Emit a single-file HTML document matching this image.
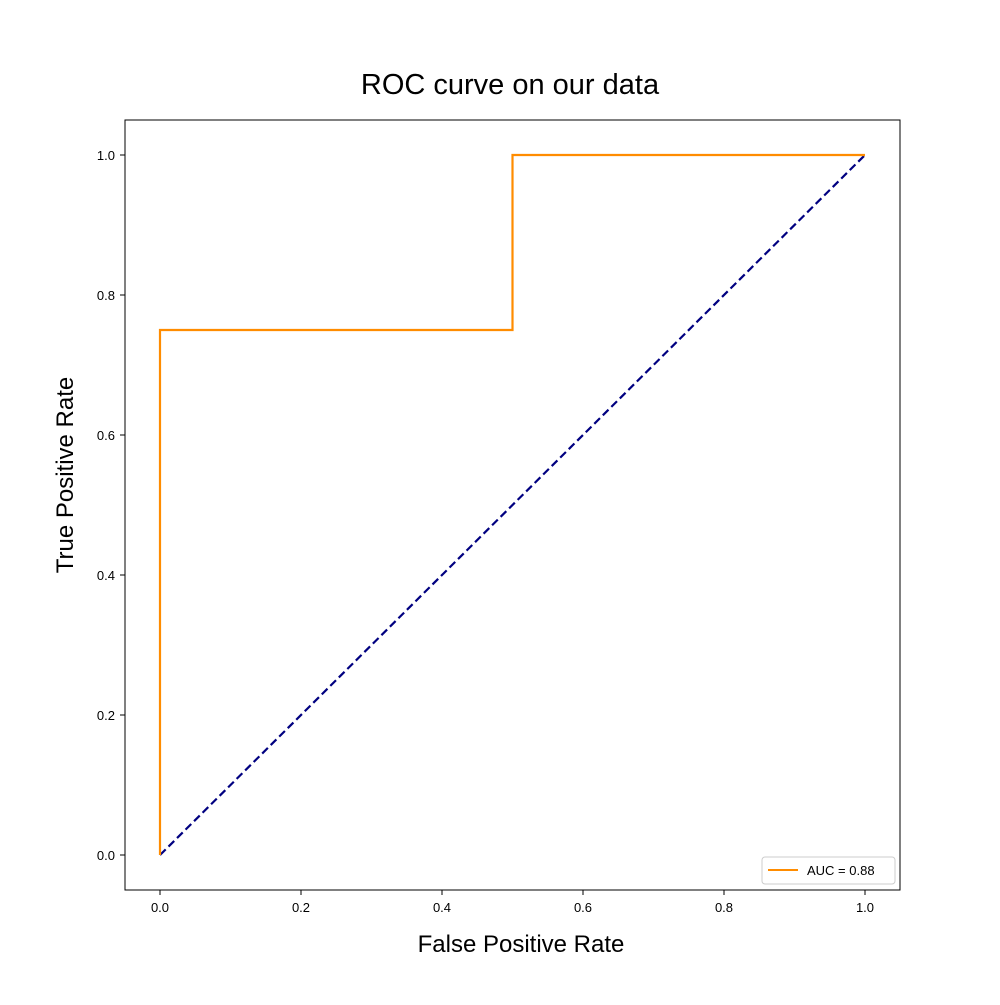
<!DOCTYPE html>
<html><head><meta charset="utf-8"><style>
body{margin:0;background:#fff;width:1000px;height:1000px;overflow:hidden}
svg text{font-family:"Liberation Sans","DejaVu Sans",sans-serif}
</style></head><body>
<svg id="chart" width="1000" height="1000" xmlns="http://www.w3.org/2000/svg">
<rect x="0" y="0" width="1000" height="1000" fill="#fff"/>
<text x="510" y="94" font-size="29" text-anchor="middle">ROC curve on our data</text>
<text x="521" y="952" font-size="24" text-anchor="middle">False Positive Rate</text>
<text transform="translate(73,475) rotate(-90)" font-size="24" text-anchor="middle">True Positive Rate</text>
<g id="ticks"></g>
<g id="marks"></g>
<rect x="125" y="120" width="775" height="770" fill="none" stroke="#000" stroke-width="1"/>
<g>
<rect x="762" y="857" width="133" height="27" rx="3" fill="#fff" stroke="#ccc"/>
<line x1="768" y1="870" x2="798" y2="870" stroke="#ff8c00" stroke-width="2"/>
<text x="807" y="875" font-size="13">AUC = 0.88</text>
</g>
</svg>
<script>
const fpr = [0, 0, 0.5, 0.5, 1];
const tpr = [0, 0.75, 0.75, 1, 1];
const diagX = [0, 1];
const diagY = [0, 1];
const xTicks = [0, 0.2, 0.4, 0.6, 0.8, 1.0];
const yTicks = [0, 0.2, 0.4, 0.6, 0.8, 1.0];
const NS='http://www.w3.org/2000/svg';
const sx=v=>160+v*705, sy=v=>855-v*700;
const tg=document.getElementById('ticks'), mg=document.getElementById('marks');
function mk(t,a){const e=document.createElementNS(NS,t);for(const k in a)e.setAttribute(k,a[k]);return e;}
xTicks.forEach(v=>{
 const l=mk('line',{x1:sx(v),x2:sx(v),y1:890,y2:895,stroke:'#000'});
 
 
 tg.appendChild(l);
 const t=mk('text',{x:sx(v),y:912,'font-size':13,'text-anchor':'middle'});
 t.textContent=v.toFixed(1);
 
 
 tg.appendChild(t);
});
yTicks.forEach(v=>{
 const l=mk('line',{x1:120,x2:125,y1:sy(v),y2:sy(v),stroke:'#000'});
 
 
 tg.appendChild(l);
 const t=mk('text',{x:115,y:sy(v)+5,'font-size':13,'text-anchor':'end'});
 t.textContent=v.toFixed(1);
 
 
 tg.appendChild(t);
});
const d=mk('polyline',{points:diagX.map((x,i)=>sx(x)+','+sy(diagY[i])).join(' '),fill:'none',stroke:'#000080','stroke-width':2.2,'stroke-dasharray':'8,4'});


mg.appendChild(d);
const r=mk('polyline',{points:fpr.map((x,i)=>sx(x)+','+sy(tpr[i])).join(' '),fill:'none',stroke:'#ff8c00','stroke-width':2.2});


mg.appendChild(r);
</script>
</body></html>
